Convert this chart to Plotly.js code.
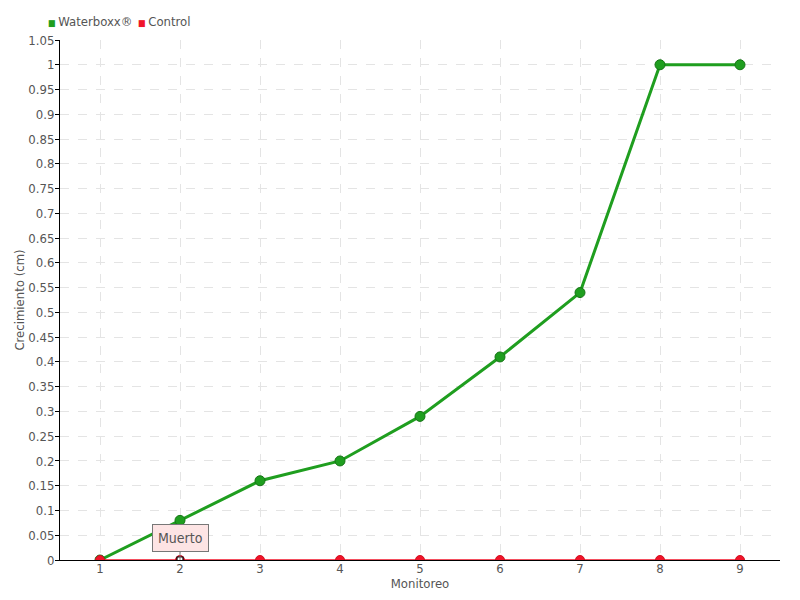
<!DOCTYPE html>
<html><head><meta charset="utf-8">
<script src="https://cdn.plot.ly/plotly-3.0.1.min.js"></script>
<style>body{margin:0;padding:0;background:#fff}#chart{width:800px;height:600px}</style>
</head><body><div id="chart"></div>
<script>
var monitoreo = [1, 2, 3, 4, 5, 6, 7, 8, 9];
var waterboxx = [0, 0.08, 0.16, 0.2, 0.29, 0.41, 0.54, 1, 1];
var control = [0, 0, 0, 0, 0, 0, 0, 0, 0];
var seriesNames = ['Waterboxx®', 'Control'];
var yTicks = [0,0.05,0.1,0.15,0.2,0.25,0.3,0.35,0.4,0.45,0.5,0.55,0.6,0.65,0.7,0.75,0.8,0.85,0.9,0.95,1,1.05];
var yTickText = ['0','0.05','0.1','0.15','0.2','0.25','0.3','0.35','0.4','0.45','0.5','0.55','0.6','0.65','0.7','0.75','0.8','0.85','0.9','0.95','1','1.05'];
var tooltipX = 2, tooltipY = 0, tooltipText = 'Muerto';

var font = "'DejaVu Sans Condensed', 'Liberation Sans Narrow', sans-serif";
var green = '#1f9e1f', red = '#f0142a';
var colors = [green, red];
var traces = [
  {x: monitoreo, y: waterboxx, name: seriesNames[0], mode: 'lines+markers',
   line: {color: green, width: 3},
   marker: {color: green, size: 10, line: {color: '#167516', width: 1}}},
  {x: monitoreo, y: control, name: seriesNames[1], mode: 'lines+markers',
   line: {color: red, width: 1.5},
   marker: {color: red, size: 9, line: {color: '#d01020', width: 1}}},
  {x: [tooltipX], y: [tooltipY], mode: 'markers', hoverinfo: 'skip',
   marker: {symbol: 'square', color: '#ffffff', size: 6, line: {color: '#000', width: 1.2}}}
];
var legendX = [-0.0195, 0.1055];
var legendAnn = seriesNames.map(function (n, i) {
  return {xref: 'paper', yref: 'paper', x: legendX[i], y: 1.0365, xanchor: 'left', yanchor: 'middle',
    showarrow: false, font: {size: 13, color: '#555'},
    text: '<span style="color:' + colors[i] + ';font-size:9px">■ </span>' + n};
});
var layout = {
  width: 800, height: 600,
  margin: {l: 60, r: 20, t: 40, b: 40, autoexpand: false},
  paper_bgcolor: '#fff', plot_bgcolor: '#fff',
  font: {family: font, size: 13, color: '#555'},
  showlegend: false,
  xaxis: {range: [0.5, 9.5], tickvals: monitoreo, ticktext: monitoreo.map(String),
          showgrid: true, gridcolor: '#e4e4e4', griddash: 'dash', gridwidth: 1,
          zeroline: false, showline: true, linecolor: '#000', linewidth: 1,
          ticks: '', ticklabelstandoff: -4,
          tickfont: {size: 13, color: '#555'},
          title: {text: 'Monitoreo', font: {size: 13, color: '#555'}, standoff: 0}},
  yaxis: {range: [0, 1.05], tickvals: yTicks, ticktext: yTickText,
          showgrid: true, gridcolor: '#e4e4e4', griddash: 'dash', gridwidth: 1,
          zeroline: false, showline: true, linecolor: '#000', linewidth: 1,
          ticks: 'outside', ticklen: 4, tickcolor: '#000', ticklabelstandoff: -2,
          tickfont: {size: 13, color: '#555'},
          title: {text: 'Crecimiento (cm)', font: {size: 13, color: '#555'}, standoff: 0}},
  annotations: [{x: tooltipX, y: tooltipY, text: tooltipText, showarrow: true,
    arrowhead: 0, arrowwidth: 1, arrowcolor: '#777', ax: 0, ay: -8,
    yanchor: 'bottom', bgcolor: '#fde4e4', bordercolor: '#777', borderwidth: 1,
    borderpad: 5, font: {size: 14, color: '#555'}}].concat(legendAnn)
};
Plotly.newPlot('chart', traces, layout, {displayModeBar: false});
</script></body></html>
